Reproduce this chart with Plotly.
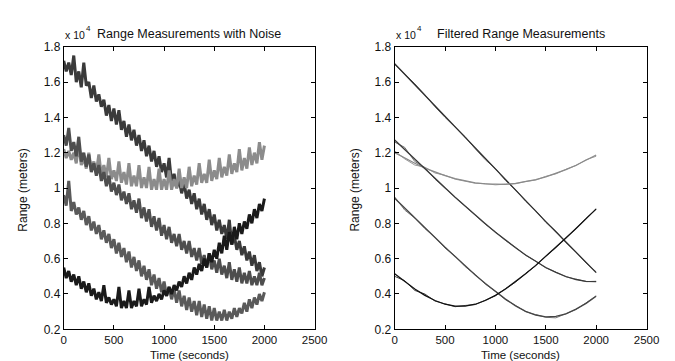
import plotly.graph_objects as go

# ---------------- data (values in units of 1e4 metres) ----------------
t_noisy = list(range(0, 2001, 25))
t_filt = list(range(0, 2001, 100))

noisy_a = [1.72, 1.66, 1.71, 1.64, 1.75, 1.60, 1.66, 1.57, 1.71, 1.58, 1.60, 1.51, 1.58, 1.49, 1.53, 1.46,
           1.50, 1.41, 1.47, 1.38, 1.45, 1.36, 1.44, 1.33, 1.38, 1.29, 1.36, 1.27, 1.33, 1.24, 1.30, 1.21,
           1.27, 1.18, 1.24, 1.15, 1.21, 1.12, 1.18, 1.09, 1.14, 1.06, 1.17, 1.03, 1.08, 1.00, 1.05, 0.97,
           1.03, 0.94, 0.99, 0.91, 0.97, 0.88, 0.94, 0.85, 0.91, 0.82, 0.88, 0.79, 0.85, 0.76, 0.82, 0.74,
           0.79, 0.71, 0.82, 0.68, 0.73, 0.65, 0.70, 0.62, 0.67, 0.59, 0.64, 0.56, 0.62, 0.53, 0.58, 0.50,
           0.55]
noisy_b = [1.22, 1.17, 1.21, 1.16, 1.20, 1.14, 1.25, 1.13, 1.17, 1.11, 1.20, 1.10, 1.15, 1.09, 1.19, 1.07,
           1.13, 1.06, 1.17, 1.05, 1.10, 1.04, 1.15, 1.03, 1.09, 1.02, 1.14, 1.01, 1.07, 1.01, 1.13, 1.00,
           1.06, 1.00, 1.12, 0.99, 1.05, 0.99, 1.11, 0.99, 1.05, 0.99, 1.10, 0.99, 1.05, 1.00, 1.11, 1.00,
           1.06, 1.00, 1.12, 1.01, 1.07, 1.02, 1.14, 1.03, 1.08, 1.03, 1.16, 1.04, 1.10, 1.05, 1.17, 1.06,
           1.12, 1.07, 1.19, 1.08, 1.14, 1.09, 1.22, 1.10, 1.17, 1.11, 1.23, 1.13, 1.20, 1.14, 1.26, 1.16,
           1.24]
noisy_c = [1.30, 1.24, 1.34, 1.21, 1.26, 1.18, 1.29, 1.15, 1.20, 1.12, 1.19, 1.09, 1.14, 1.07, 1.13, 1.04,
           1.09, 1.01, 1.07, 0.98, 1.03, 0.96, 1.02, 0.93, 0.98, 0.91, 0.97, 0.88, 0.93, 0.86, 0.94, 0.83,
           0.89, 0.81, 0.88, 0.78, 0.84, 0.76, 0.83, 0.73, 0.79, 0.71, 0.78, 0.69, 0.74, 0.67, 0.74, 0.65,
           0.70, 0.63, 0.70, 0.61, 0.66, 0.59, 0.66, 0.57, 0.62, 0.55, 0.63, 0.54, 0.59, 0.52, 0.60, 0.51,
           0.56, 0.49, 0.58, 0.48, 0.54, 0.47, 0.55, 0.46, 0.52, 0.46, 0.53, 0.45, 0.50, 0.45, 0.52, 0.45,
           0.49]
noisy_d = [0.96, 0.90, 1.04, 0.87, 0.92, 0.85, 0.89, 0.82, 0.87, 0.79, 0.84, 0.76, 0.81, 0.74, 0.79, 0.71,
           0.76, 0.69, 0.74, 0.66, 0.71, 0.63, 0.69, 0.61, 0.66, 0.58, 0.64, 0.55, 0.61, 0.53, 0.59, 0.50,
           0.56, 0.48, 0.54, 0.45, 0.51, 0.43, 0.49, 0.41, 0.47, 0.39, 0.44, 0.37, 0.43, 0.35, 0.42, 0.33,
           0.39, 0.31, 0.38, 0.30, 0.36, 0.28, 0.36, 0.27, 0.34, 0.26, 0.33, 0.25, 0.32, 0.25, 0.30, 0.25,
           0.31, 0.25, 0.30, 0.26, 0.32, 0.27, 0.32, 0.29, 0.35, 0.30, 0.37, 0.32, 0.38, 0.34, 0.40, 0.36,
           0.41]
noisy_e = [0.55, 0.49, 0.53, 0.47, 0.51, 0.45, 0.50, 0.43, 0.47, 0.41, 0.46, 0.39, 0.43, 0.37, 0.41, 0.36,
           0.45, 0.35, 0.38, 0.34, 0.37, 0.33, 0.44, 0.32, 0.36, 0.32, 0.42, 0.32, 0.36, 0.33, 0.43, 0.33,
           0.37, 0.34, 0.44, 0.35, 0.39, 0.36, 0.40, 0.37, 0.42, 0.39, 0.44, 0.40, 0.45, 0.42, 0.47, 0.44,
           0.50, 0.46, 0.52, 0.48, 0.55, 0.51, 0.57, 0.53, 0.60, 0.55, 0.63, 0.58, 0.65, 0.60, 0.69, 0.63,
           0.73, 0.65, 0.75, 0.68, 0.78, 0.71, 0.80, 0.74, 0.81, 0.77, 0.85, 0.80, 0.88, 0.83, 0.91, 0.87,
           0.94]

true_a = [1.704, 1.644, 1.584, 1.524, 1.464, 1.404, 1.345, 1.285, 1.225, 1.165, 1.106,
          1.046, 0.987, 0.928, 0.869, 0.810, 0.752, 0.694, 0.636, 0.578, 0.521]
true_b = [1.200, 1.168, 1.140, 1.113, 1.090, 1.070, 1.053, 1.039, 1.029, 1.023, 1.020,
          1.021, 1.026, 1.035, 1.047, 1.063, 1.082, 1.104, 1.129, 1.157, 1.187]
true_c = [1.272, 1.217, 1.162, 1.108, 1.054, 1.001, 0.948, 0.897, 0.847, 0.798, 0.750,
          0.705, 0.662, 0.621, 0.584, 0.550, 0.522, 0.499, 0.482, 0.472, 0.470]
true_d = [0.942, 0.886, 0.830, 0.774, 0.719, 0.665, 0.612, 0.559, 0.508, 0.459, 0.413,
          0.371, 0.333, 0.302, 0.281, 0.271, 0.273, 0.288, 0.314, 0.347, 0.387]
true_e = [0.514, 0.469, 0.428, 0.392, 0.363, 0.342, 0.331, 0.331, 0.342, 0.363, 0.392,
          0.428, 0.469, 0.514, 0.562, 0.612, 0.664, 0.717, 0.771, 0.826, 0.882]

est_a = [1.700, 1.645, 1.590, 1.528, 1.460, 1.400, 1.343, 1.290, 1.222, 1.160, 1.110,
         1.042, 0.990, 0.925, 0.872, 0.806, 0.755, 0.690, 0.638, 0.575, 0.525]
est_b = [1.210, 1.165, 1.130, 1.118, 1.085, 1.072, 1.050, 1.040, 1.027, 1.025, 1.018,
         1.022, 1.024, 1.037, 1.045, 1.066, 1.080, 1.106, 1.127, 1.160, 1.180]
est_c = [1.260, 1.230, 1.150, 1.115, 1.050, 1.000, 0.950, 0.895, 0.850, 0.795, 0.752,
         0.703, 0.664, 0.619, 0.586, 0.548, 0.524, 0.497, 0.484, 0.470, 0.472]
est_d = [0.950, 0.875, 0.830, 0.770, 0.722, 0.660, 0.615, 0.555, 0.510, 0.456, 0.415,
         0.368, 0.335, 0.300, 0.283, 0.268, 0.265, 0.290, 0.312, 0.350, 0.390]
est_e = [0.500, 0.475, 0.420, 0.400, 0.360, 0.345, 0.328, 0.335, 0.340, 0.365, 0.390,
         0.430, 0.467, 0.516, 0.560, 0.614, 0.662, 0.719, 0.770, 0.828, 0.880]

x_ticks = [0, 500, 1000, 1500, 2000, 2500]
y_ticks = [0.2, 0.4, 0.6, 0.8, 1.0, 1.2, 1.4, 1.6, 1.8]
y_tick_text = ["0.2", "0.4", "0.6", "0.8", "1", "1.2", "1.4", "1.6", "1.8"]

noisy_colors = ["#3a3a3a", "#8c8c8c", "#4e4e4e", "#5a5a5a", "#1a1a1a"]
true_colors = ["#2e2e2e", "#8a8a8a", "#3a3a3a", "#454545", "#111111"]
est_colors = ["#6a6a6a", "#9a9a9a", "#6e6e6e", "#777777", "#444444"]

# ---------------- figure ----------------
fig = go.Figure()

for ys, col in zip([noisy_a, noisy_b, noisy_c, noisy_d, noisy_e], noisy_colors):
    fig.add_trace(go.Scatter(x=t_noisy, y=ys, mode="lines", line=dict(color=col, width=3),
                             xaxis="x", yaxis="y", showlegend=False, hoverinfo="skip"))

for ys, col in zip([est_a, est_b, est_c, est_d, est_e], est_colors):
    fig.add_trace(go.Scatter(x=t_filt, y=ys, mode="lines", line=dict(color=col, width=1),
                             xaxis="x2", yaxis="y2", showlegend=False, hoverinfo="skip"))
for ys, col in zip([true_a, true_b, true_c, true_d, true_e], true_colors):
    fig.add_trace(go.Scatter(x=t_filt, y=ys, mode="lines", line=dict(color=col, width=1.3),
                             xaxis="x2", yaxis="y2", showlegend=False, hoverinfo="skip"))

font = dict(family="Liberation Sans, Arial, sans-serif", size=12, color="#111111")
tick_font = dict(family="Liberation Sans, Arial, sans-serif", size=11.5, color="#111111")
label_font = dict(family="Liberation Sans, Arial, sans-serif", size=11.5, color="#111111")
small_font = dict(family="Liberation Sans, Arial, sans-serif", size=10.5, color="#111111")
title_font = dict(family="Liberation Sans, Arial, sans-serif", size=12.5, color="#111111")
sup_font = dict(family="Liberation Sans, Arial, sans-serif", size=8, color="#111111")
ax_common = dict(range=[0, 2500], tickvals=x_ticks, ticks="inside", ticklen=4, tickcolor="black",
                 showline=True, linecolor="black", linewidth=1, mirror="allticks",
                 showgrid=False, zeroline=False, tickfont=tick_font)
ay_common = dict(range=[0.2, 1.8], tickvals=y_ticks, ticktext=y_tick_text, ticks="inside", ticklen=4,
                 tickcolor="black", showline=True, linecolor="black", linewidth=1, mirror="allticks",
                 showgrid=False, zeroline=False, tickfont=font)

y_dom = [0.0942, 0.9086]
fig.update_layout(
    width=675, height=361,
    margin=dict(l=0, r=0, t=0, b=0),
    paper_bgcolor="white", plot_bgcolor="white",
    font=font,
    xaxis=dict(domain=[0.080, 0.4607], anchor="y", **ax_common),
    yaxis=dict(domain=y_dom, anchor="x", **ay_common),
    xaxis2=dict(domain=[0.5822, 0.9644], anchor="y2", **ax_common),
    yaxis2=dict(domain=y_dom, anchor="x2", **ay_common),
)

ann = []
for x0 in [53, 392]:
    ann.append(dict(text="x 10", x=x0 / 675, y=1 - 21 / 361, xref="paper", yref="paper",
                    xanchor="left", yanchor="middle", showarrow=False, font=small_font))
    ann.append(dict(text="4", x=(x0 + 21.5) / 675, y=1 - 14 / 361, xref="paper", yref="paper",
                    xanchor="left", yanchor="middle", showarrow=False, font=sup_font))
ann.append(dict(text="Range Measurements with Noise", x=182 / 675, y=1 - 20 / 361, xref="paper",
                yref="paper", xanchor="center", yanchor="middle", showarrow=False, font=title_font))
ann.append(dict(text="Filtered Range Measurements", x=522 / 675, y=1 - 20 / 361, xref="paper",
                yref="paper", xanchor="center", yanchor="middle", showarrow=False, font=title_font))
for cx in [182.5, 522]:
    ann.append(dict(text="Time (seconds)", x=cx / 675, y=1 - 353.5 / 361, xref="paper", yref="paper",
                    xanchor="center", yanchor="middle", showarrow=False, font=label_font))
for cx in [12, 352]:
    ann.append(dict(text="Range (meters)", x=cx / 675, y=1 - 182 / 361, xref="paper", yref="paper",
                    xanchor="center", yanchor="middle", showarrow=False, textangle=-90, font=font))
fig.update_layout(annotations=ann)

fig.write_html("out.html")
